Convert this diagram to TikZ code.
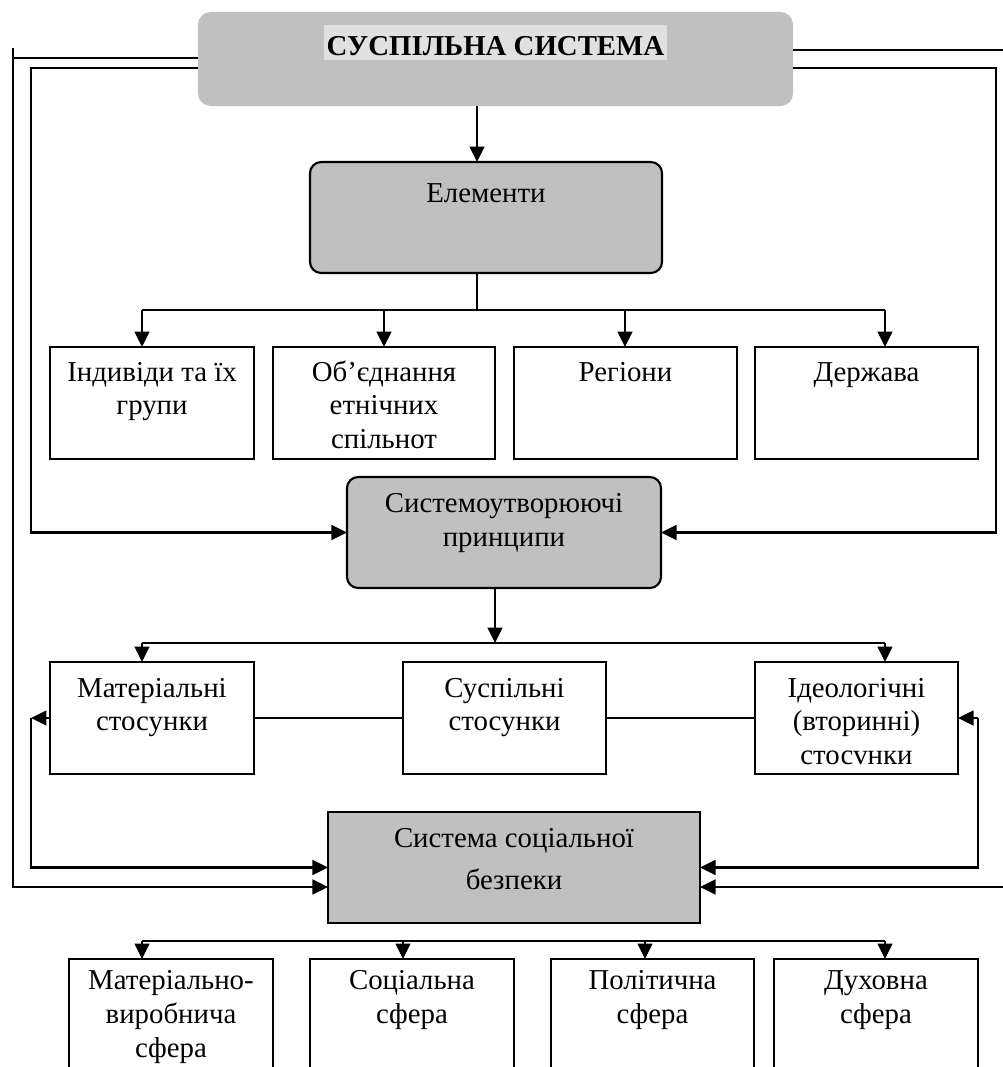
\documentclass[tikz,border=0pt]{standalone}
\usepackage{fontspec}
\setmainfont{Liberation Serif}
\usetikzlibrary{arrows.meta}
\definecolor{boxgray}{RGB}{192,192,192}
\definecolor{titlegray}{RGB}{224,224,224}
\newcommand{\cell}[4]{\parbox[c][#2][t]{#1}{\centering\rule{0pt}{#3}#4}}

\begin{document}
\begin{tikzpicture}[x=0.025cm,y=-0.025cm,line width=1.5pt,>={Triangle[length=11pt,width=10.5pt]}]
\tikzstyle{every node}=[inner sep=0pt,outer sep=0pt,font=\fontsize{20.5}{24}\selectfont]
\tikzstyle{topbox}=[rectangle,rounded corners=9pt,fill=boxgray]
\tikzstyle{roundbox}=[topbox,rounded corners=8pt,draw]
\tikzstyle{whitebox}=[rectangle,draw,fill=white]
\tikzstyle{greybox}=[rectangle,draw,fill=boxgray]
\useasboundingbox (0,0) rectangle (1002,1067);

\node[topbox](T) at (495.5,59) {\cell{14.875cm}{2.35cm}{30.6pt}{\fboxsep=2pt\colorbox{titlegray}{\rule[-1.6pt]{0pt}{20.9pt}\textbf{СУСПІЛЬНА СИСТЕМА}}}};
\node[roundbox](E) at (486,217.5) {\cell{8.8cm}{2.775cm}{28.5pt}{Елементи}};

\node[whitebox](ind) at (152,403) {\cell{5.1cm}{2.8cm}{24.2pt}{Індивіди та їх\\групи}};
\node[whitebox](ob) at (384,403) {\cell{5.55cm}{2.8cm}{24.2pt}{Об’єднання\\етнічних\\спільнот}};
\node[whitebox](reg) at (625.5,403) {\cell{5.575cm}{2.8cm}{24.2pt}{Регіони}};
\node[whitebox](der) at (866.5,403) {\cell{5.575cm}{2.8cm}{24.2pt}{Держава}};

\node[roundbox](S) at (504,532.5) {\cell{7.85cm}{2.775cm}{25.6pt}{Системоутворюючі\\принципи}};

\node[whitebox](mat) at (152,718) {\cell{5.1cm}{2.8cm}{24.9pt}{Матеріальні\\стосунки}};
\node[whitebox](sus) at (504.5,718) {\cell{5.075cm}{2.8cm}{24.9pt}{Суспільні\\стосунки}};
\node[whitebox](ideo) at (856.5,718) {\cell{5.075cm}{2.8cm}{24.9pt}{Ідеологічні\\(вторинні)\\стосvнки}};

\node[greybox](bez) at (514,867.5) {\cell{9.3cm}{2.775cm}{24.9pt}{Система соціальної\\[6.5pt]безпеки}};

\node[whitebox](mv) at (171,1029) {\cell{5.1cm}{3.5cm}{22pt}{Матеріально-\\виробнича\\сфера}};
\node[whitebox](soc) at (412,1029) {\cell{5.1cm}{3.5cm}{22pt}{Соціальна\\сфера}};
\node[whitebox](pol) at (652.5,1029) {\cell{5.075cm}{3.5cm}{22pt}{Політична\\сфера}};
\node[whitebox](dux) at (876,1029) {\cell{5.1cm}{3.5cm}{22pt}{Духовна\\сфера}};

% from the top
\coordinate (a1) at (477,310);
\coordinate (b1l) at (142,310);
\coordinate (b1r) at (885,310);
\draw[->] (T.south-|a1) -- (E.north-|a1);
\draw (E.south-|a1) -- (a1);
\draw (b1l) -- (b1r);
\foreach \x/\n in {142/ind,384/ob,625/reg,885/der}{
  \coordinate (p) at (\x,310);
  \draw[->] (p) -- (p|-\n.north);
}

% loops round the elements
\coordinate (iL) at (31,68);
\coordinate (iR) at (996,68);
\draw[->] (iL-|T.west) -- (iL) |- (S.west);
\draw[->] (iR-|T.east) -- (iR) |- (S.east);

\coordinate (a2) at (495,643);
\coordinate (b2l) at (142,643);
\coordinate (b2r) at (885,643);
\draw[->] (S.south-|a2) -- (a2);
\draw (b2l) -- (b2r);
\draw[->] (b2l) -- (b2l|-mat.north);
\draw[->] (b2r) -- (b2r|-ideo.north);

\draw (mat) -- (sus);
\draw (sus) -- (ideo);

\coordinate (mL) at (31,718);
\coordinate (mR) at (978,718);
\draw[->] (mat.west) -- (mL);
\draw[->] (mL) |- (bez.west);
\draw[->] (mR) -- (ideo.east);
\draw[->] (mR) |- (bez.east);

% outer loops
\coordinate (oL) at (13,48);
\coordinate (oLt) at (13,58);
\coordinate (oLb) at (13,887);
\coordinate (oRt) at (1008,50);
\coordinate (oRb) at (1008,887);
\draw (oLt-|T.west) -- (oLt);
\draw[->] (oL) -- (oLb) -- (oLb-|bez.west);
\draw[->] (oRt-|T.east) -- (oRt) -- (oRb) -- (oRb-|bez.east);

% spheres
\coordinate (b3l) at (142,941);
\coordinate (b3r) at (885,941);
\draw (b3l) -- (b3r);
\foreach \x/\n in {142/mv,403/soc,645/pol,885/dux}{
  \coordinate (p) at (\x,941);
  \draw[->] (p) -- (p|-\n.north);
}
\end{tikzpicture}
\end{document}
